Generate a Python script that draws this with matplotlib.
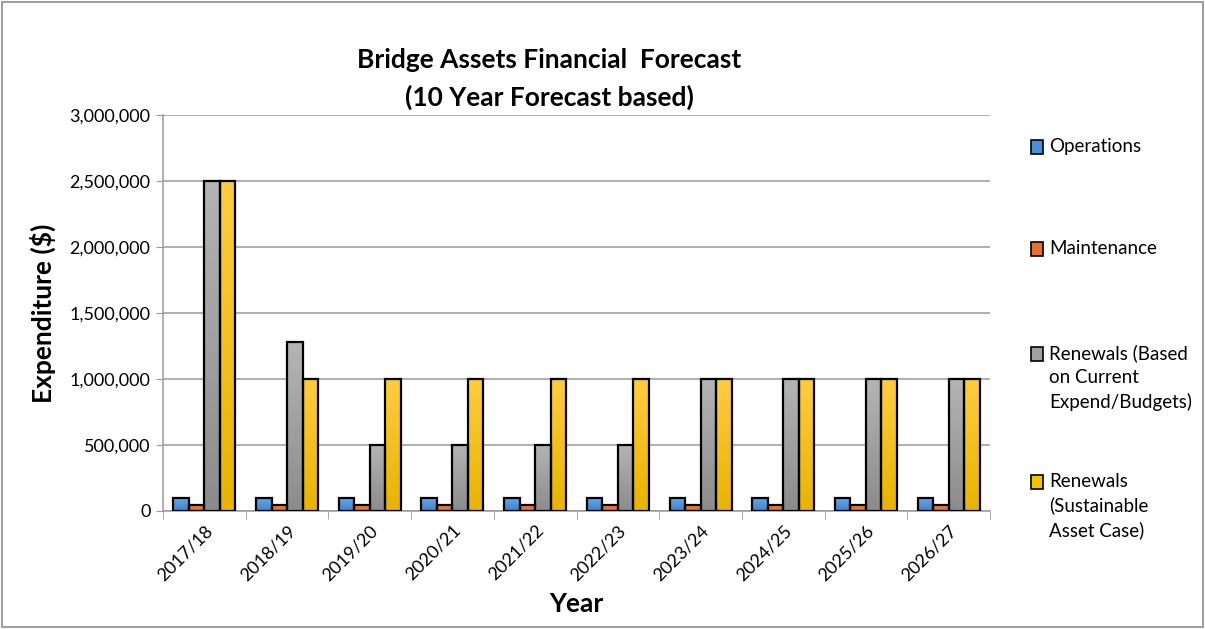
import numpy as np
import matplotlib.pyplot as plt
from matplotlib.patches import Rectangle
from matplotlib.colors import LinearSegmentedColormap
from matplotlib.ticker import FuncFormatter

plt.rcParams['font.family'] = ['Lato', 'DejaVu Sans']

years = ['2017/18', '2018/19', '2019/20', '2020/21', '2021/22',
         '2022/23', '2023/24', '2024/25', '2025/26', '2026/27']
operations = [100000] * 10
maintenance = [45000] * 10
renewals_current = [2500000, 1280000, 500000, 500000, 500000,
                    500000, 1000000, 1000000, 1000000, 1000000]
renewals_sustainable = [2500000, 1000000, 1000000, 1000000, 1000000,
                        1000000, 1000000, 1000000, 1000000, 1000000]

series = [operations, maintenance, renewals_current, renewals_sustainable]
labels = ['Operations', 'Maintenance',
          'Renewals (Based\non Current\nExpend/Budgets)',
          'Renewals\n(Sustainable\nAsset Case)']
# (top colour, bottom colour) for the excel-ish gradient
grads = [('#6aa9e6', '#3b83cc'), ('#f5853f', '#e0601a'),
         ('#b4b4b4', '#8c8c8c'), ('#ffcc40', '#e8b400')]
legend_cols = ['#4a90d9', '#ed6d2a', '#a0a0a0', '#f5c200']

fig = plt.figure(figsize=(12.05, 6.29), dpi=100)
fig.patches.append(Rectangle((0.002, 0.003), 0.996, 0.994, transform=fig.transFigure,
                             fill=False, edgecolor='#8c8c8c', lw=1.2))
ax = fig.add_axes([0.1353, 0.1876, 0.6863, 0.6296])

x = np.arange(len(years))
w = 0.1875
for i, vals in enumerate(series):
    cmap = LinearSegmentedColormap.from_list('g%d' % i, [grads[i][1], grads[i][0]])
    offs = (i - 1.5) * w
    bars = ax.bar(x + offs, vals, w, color='none', edgecolor='black', lw=1.6, zorder=3)
    for b in bars:
        bx, by = b.get_x(), b.get_y()
        bw, bh = b.get_width(), b.get_height()
        im = ax.imshow(np.linspace(0, 1, 50).reshape(-1, 1)[::-1], cmap=cmap, aspect='auto',
                       extent=[bx, bx + bw, by, by + bh], zorder=2)
        im.set_clip_path(b)

ax.set_xlim(-0.5, len(years) - 0.5)
ax.set_ylim(0, 3000000)
ax.set_yticks(np.arange(0, 3000001, 500000))
ax.yaxis.set_major_formatter(FuncFormatter(lambda v, p: f'{int(v):,}'))
ax.grid(axis='y', color='#9a9a9a', lw=1.1, zorder=0)
ax.set_axisbelow(True)

ax.set_xticks(x)
ax.set_xticklabels(years, rotation=45, ha='right', rotation_mode='anchor', fontsize=13)
ax.tick_params(axis='x', length=0, pad=8)
ax.set_xticks(np.arange(-0.5, len(years)), minor=True)
ax.tick_params(axis='x', which='minor', length=6, color='#9a9a9a')
ax.tick_params(axis='y', length=5, color='#9a9a9a', labelsize=13, pad=4)

for s in ['top', 'right']:
    ax.spines[s].set_visible(False)
for s in ['left', 'bottom']:
    ax.spines[s].set_color('#9a9a9a')
    ax.spines[s].set_linewidth(1.1)

ax.set_xlabel('Year', fontsize=19, fontweight='bold', labelpad=6)
ax.set_ylabel('Expenditure ($)', fontsize=19, fontweight='bold', labelpad=10)

fig.text(0.456, 0.905, 'Bridge Assets Financial  Forecast', ha='center', va='center',
         fontsize=19, fontweight='bold')
fig.text(0.456, 0.845, '(10 Year Forecast based)', ha='center', va='center',
         fontsize=19, fontweight='bold')

# legend, spread down the right side like the excel one
leg_y = [147, 249, 354, 482]
for lab, col, yy in zip(labels, legend_cols, leg_y):
    yf = 1 - yy / 629
    fig.patches.append(Rectangle((1031 / 1205, yf - 0.011), 12 / 1205, 0.022,
                                 transform=fig.transFigure, facecolor=col,
                                 edgecolor='black', lw=1.2))
    fig.text(1049 / 1205, yf + 0.015, lab, ha='left', va='top', fontsize=13.5,
             linespacing=1.45)

fig.savefig('out.png', dpi=100)
